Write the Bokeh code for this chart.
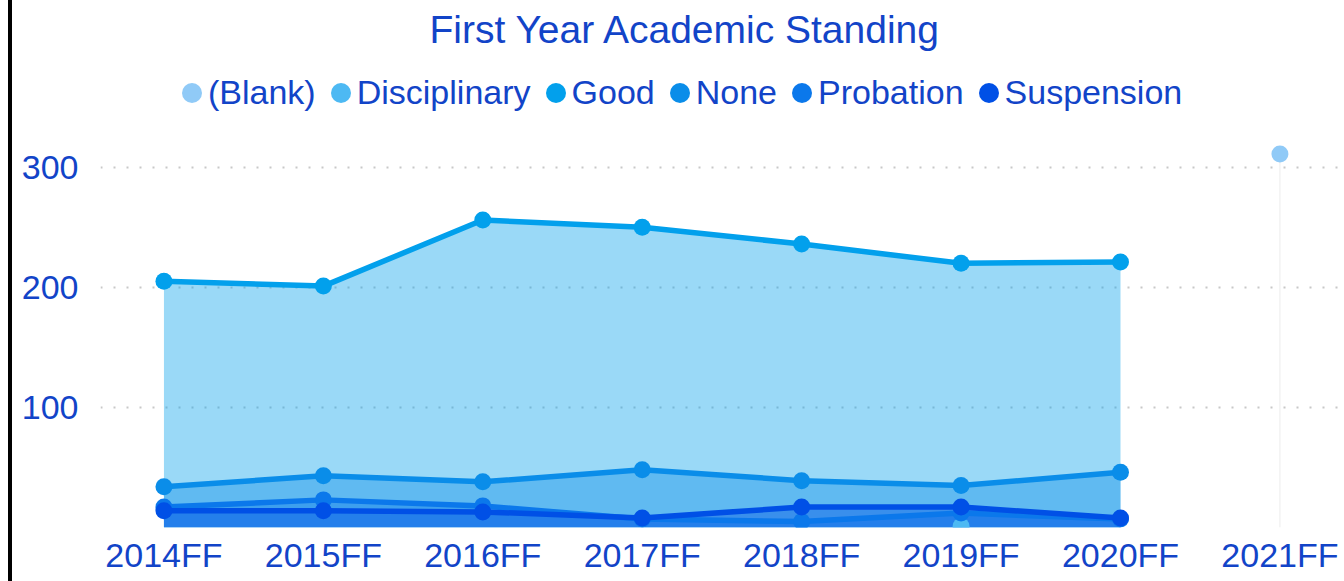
from bokeh.plotting import figure
from bokeh.models import Range1d, FixedTicker, Legend, LegendItem
from bokeh.embed import file_html
from bokeh.resources import INLINE

terms = ["2014FF", "2015FF", "2016FF", "2017FF", "2018FF", "2019FF", "2020FF", "2021FF"]
series_names = ["(Blank)", "Disciplinary", "Good", "None", "Probation", "Suspension"]
blank = [None, None, None, None, None, None, None, 311]
disciplinary = [None, None, None, None, None, 1, None, None]
good = [205, 201, 256, 250, 236, 220, 221, None]
none_ = [34, 43, 38, 48, 39, 35, 46, None]
probation = [17, 23, 18, 7, 5, 12, 7, None]
suspension = [14, 14, 13, 8, 17, 17, 8, None]
series_values = [blank, disciplinary, good, none_, probation, suspension]
colors = ["#90caf7", "#4db9f3", "#02a0ec", "#0a8de9", "#0b78eb", "#0050e6"]
y_ticks = [100, 200, 300]

TXT = "#1244c8"
FONT = "Liberation Sans"

p = figure(width=1332, height=581, output_backend="svg", toolbar_location=None,
           x_range=Range1d(-0.398, 7.38), y_range=Range1d(0, 393))
p.styles = {"margin-left": "8px", "border-left": "4px solid black"}
p.min_border_left = 88
p.min_border_right = 4
p.min_border_bottom = 54
p.min_border_top = 0
p.outline_line_color = None
p.background_fill_color = "white"
p.border_fill_color = "white"

p.title.text = "First Year Academic Standing"
p.title.align = "left"
p.title.offset = 329
p.title.text_font = FONT
p.title.text_font_size = "39px"
p.title.text_font_style = "normal"
p.title.text_color = TXT

for name, vals, c in zip(series_names, series_values, colors):
    xs = [i for i, v in enumerate(vals) if v is not None]
    ys = [v for v in vals if v is not None]
    if len(xs) > 1:
        p.varea(x=xs, y1=[0] * len(xs), y2=ys, fill_color=c, fill_alpha=0.4)
    else:
        p.segment(x0=xs, y0=[0] * len(xs), x1=xs, y1=ys, line_color="#ececec", line_width=1)

dot_renderers = []
for name, vals, c in zip(series_names, series_values, colors):
    xs = [i for i, v in enumerate(vals) if v is not None]
    ys = [v for v in vals if v is not None]
    if len(xs) > 1:
        p.line(xs, ys, line_color=c, line_width=5.5)
    r = p.ellipse(x=xs, y=ys, width=17, height=17, width_units="screen", height_units="screen",
                  fill_color=c, line_color=None)
    dot_renderers.append(r)

legend = Legend(items=[LegendItem(label=n, renderers=[r]) for n, r in zip(series_names, dot_renderers)],
                orientation="horizontal", location=(79, 415))
legend.glyph_width = 25
legend.glyph_height = 25
legend.label_standoff = 4
legend.spacing = 12
legend.padding = 0
legend.margin = 0
legend.border_line_color = None
legend.background_fill_alpha = 0
legend.label_text_font = FONT
legend.label_text_font_size = "34px"
legend.label_text_color = TXT
p.add_layout(legend, "center")

p.xaxis.ticker = FixedTicker(ticks=list(range(len(terms))))
p.xaxis.major_label_overrides = {i: t for i, t in enumerate(terms)}
p.yaxis.ticker = FixedTicker(ticks=y_ticks)
for ax in (p.xaxis, p.yaxis):
    ax.axis_line_color = None
    ax.major_tick_line_color = None
    ax.minor_tick_line_color = None
    ax.major_tick_out = 0
    ax.major_tick_in = 0
    ax.major_label_text_font = FONT
    ax.major_label_text_font_size = "34px"
    ax.major_label_text_color = TXT
p.xaxis.major_label_standoff = 8
p.yaxis.major_label_standoff = 22

p.xgrid.visible = False
p.ygrid.grid_line_color = "#c8c8c8"
p.ygrid.grid_line_width = 2
p.ygrid.grid_line_dash = "2 11"

open("out.html", "w").write(file_html(p, INLINE))
